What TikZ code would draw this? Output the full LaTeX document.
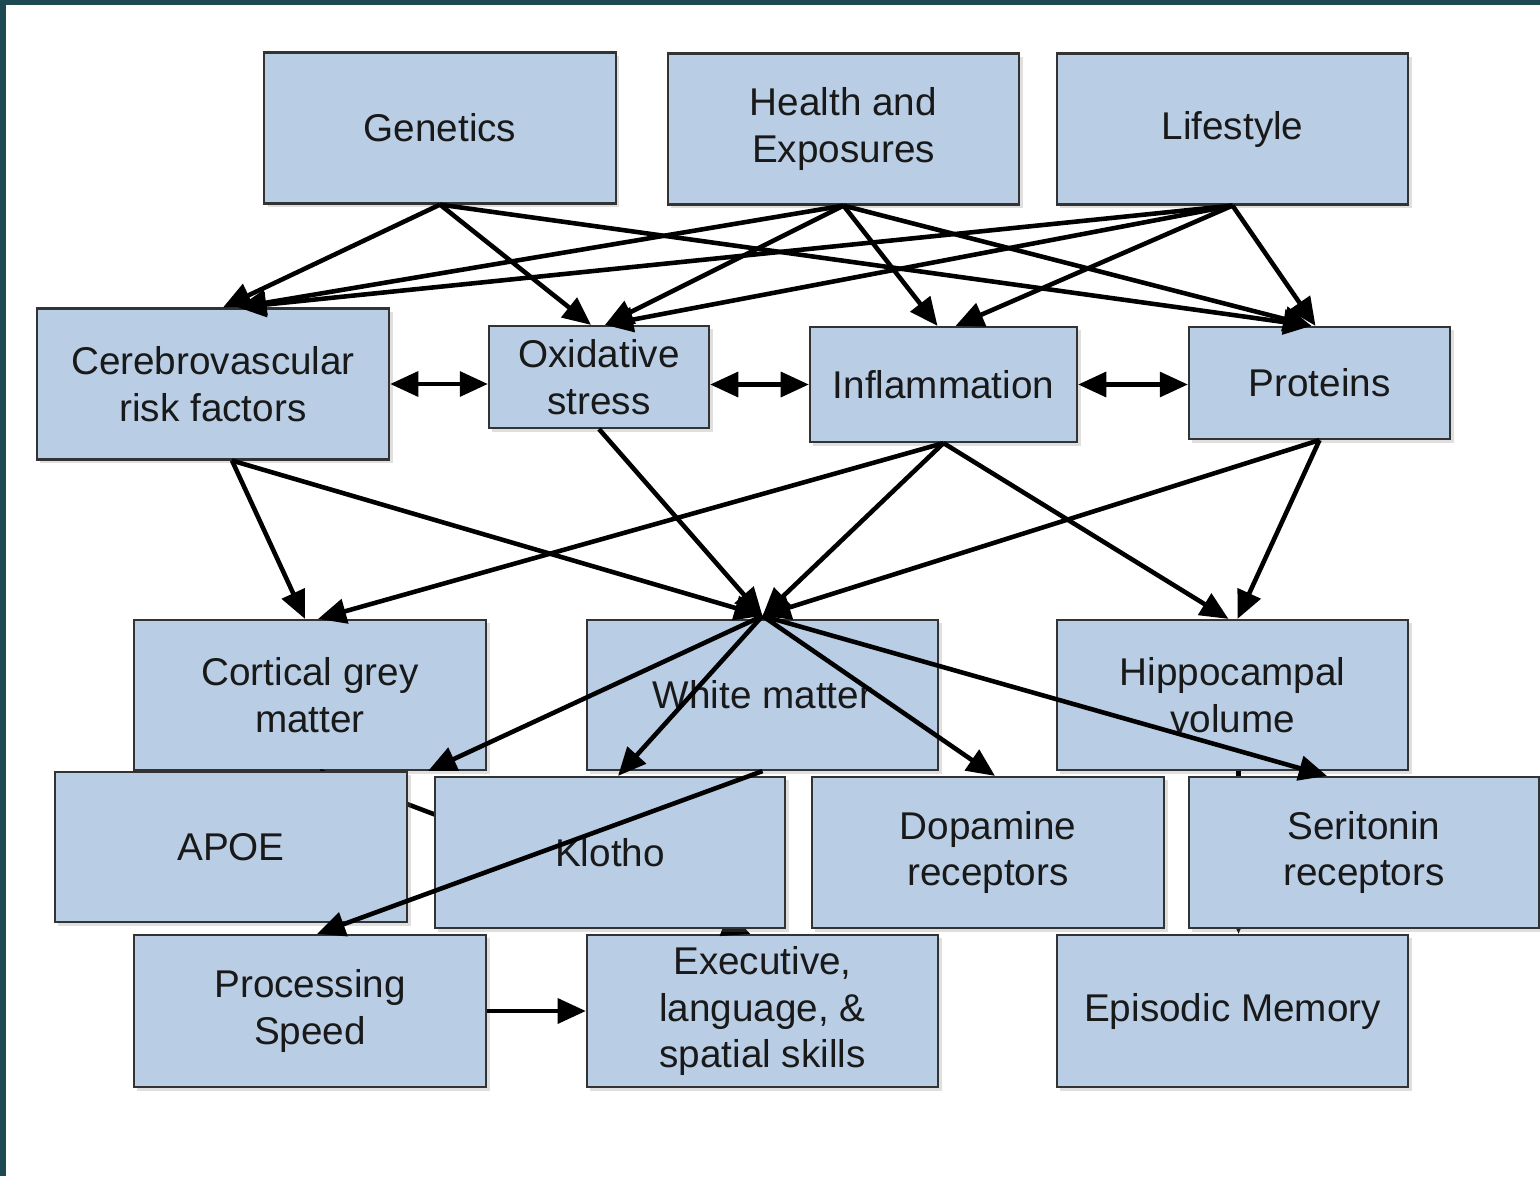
\documentclass[tikz,border=0pt]{standalone}
\usepackage{fontspec}
\setmainfont{Liberation Sans}
\usetikzlibrary{arrows.meta,shadows}
\definecolor{boxblue}{RGB}{185,205,229}
\definecolor{frameteal}{RGB}{29,74,82}

\begin{document}
\begin{tikzpicture}[x=0.01cm,y=-0.01cm,
    box/.style={draw=black!80,line width=0.6pt,fill=boxblue,align=center,inner sep=0pt,
      minimum width=3.51cm,minimum height=1.51cm,text=black!90,
      font=\fontsize{11}{13.3}\selectfont,
      drop shadow={shadow xshift=0.035cm,shadow yshift=-0.035cm,opacity=0.25}},
    link/.style={line width=1.3pt,-{Triangle[length=8pt,width=7pt]}},
    both/.style={line width=1.3pt,{Triangle[length=8pt,width=7pt]}-{Triangle[length=8pt,width=7pt]}}]
    \useasboundingbox (0,0) rectangle (1540,1176);
    \fill [white] (0,0) rectangle (1540,1176);
    \fill [frameteal] (0,0) rectangle (1540,5);
    \fill [frameteal] (0,0) rectangle (6,1176);
    \node [box] (gen) at (440,128) {Genetics};
    \node [box] (hea) at (843.5,129) {Health and\\Exposures};
    \node [box] (lif) at (1232.5,129) {Lifestyle};
    \node [box,minimum width=3.52cm] (cer) at (213,384) {Cerebrovascular\\risk factors};
    \node [box,minimum width=2.2cm,minimum height=1.02cm] (oxi) at (599,377) {Oxidative\\stress};
    \node [box,minimum width=2.67cm,minimum height=1.15cm] (inf) at (943.5,384.5) {Inflammation};
    \node [box,minimum width=2.61cm,minimum height=1.12cm] (pro) at (1319.5,383) {Proteins};
    \node [box,minimum width=3.52cm,minimum height=1.5cm] (cor) at (310,695) {Cortical grey\\matter};
    \node [box,minimum height=1.5cm] (wm) at (762.5,695) {White matter};
    \node [box,minimum height=1.5cm] (hip) at (1232.5,695) {Hippocampal\\volume};
    \node [box,minimum width=3.52cm,minimum height=1.52cm] (psp) at (310,1011) {Processing\\Speed};
    \node [box,minimum height=1.52cm] (exe) at (762.5,1011) {Executive,\\language, \&\\spatial skills};
    \node [box,minimum height=1.52cm] (epi) at (1232.5,1011) {Episodic Memory};
    \draw [link] ([xshift=0.1cm]cor.south) -- ([xshift=-0.12cm]exe.north);
    \draw [link] ([xshift=0.06cm]hip.south) -- ([xshift=0.06cm]epi.north);
    \node [box,minimum width=3.52cm,minimum height=1.5cm] (apoe) at (231,847) {APOE};
    \node [box,minimum width=3.5cm] (klo) at (610,852.5) {Klotho};
    \node [box,minimum width=3.52cm] (dop) at (988,852.5) {Dopamine\\receptors};
    \node [box,minimum width=3.5cm] (ser) at (1364,852.5) {Seritonin\\receptors};
    \draw [link] (gen.south) -- ([xshift=0.1cm]cer.north);
    \draw [link] (gen.south) -- ([xshift=-0.08cm]oxi.north);
    \draw [link] (gen.south) -- ([xshift=-0.08cm]pro.north);
    \draw [link] (hea.south) -- ([xshift=0.25cm]cer.north);
    \draw [link] (hea.south) -- ([xshift=0.06cm]oxi.north);
    \draw [link] (hea.south) -- ([xshift=-0.06cm]inf.north);
    \draw [link] (hea.south) -- ([xshift=-0.08cm]pro.north);
    \draw [link] (lif.south) -- ([xshift=0.25cm]cer.north);
    \draw [link] (lif.south) -- ([xshift=0.06cm]oxi.north);
    \draw [link] (lif.south) -- ([xshift=0.12cm]inf.north);
    \draw [link] (lif.south) -- ([xshift=-0.04cm]pro.north);
    \draw [both] (cer.east) -- (cer.east -| oxi.west);
    \draw [both] (inf.west -| oxi.east) -- (inf.west);
    \draw [both] (inf.east) -- (inf.east -| pro.west);
    \draw [link] ([xshift=0.19cm]cer.south) -- ([xshift=-0.05cm]cor.north);
    \draw [link] ([xshift=0.19cm]cer.south) -- ([yshift=0.03cm]wm.north);
    \draw [link] (oxi.south) -- ([yshift=0.03cm]wm.north);
    \draw [link] (inf.south) -- ([xshift=0.08cm]cor.north);
    \draw [link] (inf.south) -- ([yshift=0.03cm]wm.north);
    \draw [link] (inf.south) -- ([xshift=-0.04cm]hip.north);
    \draw [link] (pro.south) -- ([yshift=0.03cm]wm.north);
    \draw [link] (pro.south) -- ([xshift=0.05cm]hip.north);
    \draw [link] ([yshift=0.03cm]wm.north) -- ([xshift=0.2cm]apoe.north east);
    \draw [link] ([yshift=0.03cm]wm.north) -- ([xshift=0.08cm]klo.north);
    \draw [link] ([yshift=0.03cm]wm.north) -- ([xshift=0.07cm]dop.north);
    \draw [link] ([yshift=0.03cm]wm.north) -- ([xshift=-0.37cm]ser.north);
    \draw [link] (wm.south) -- ([xshift=0.07cm]psp.north);
    \draw [link] (psp.east) -- (exe.west);
\end{tikzpicture}
\end{document}
